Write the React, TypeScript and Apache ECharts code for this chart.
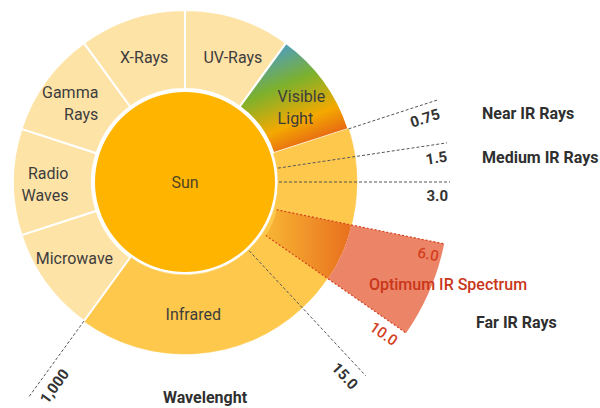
import React, { useEffect, useRef } from "react";
import * as echarts from "echarts";

// ---- data ----
const ringNames = ["UV-Rays", "Visible Light", "Infrared", "Microwave", "Radio Waves", "Gamma Rays", "X-Rays"];
const ringShares = [36, 36, 144, 36, 36, 36, 36]; // degrees of the ring
const irEdgeLabels = ["0.75", "1.5", "3.0", "6.0", "10.0", "15.0", "1,000"]; // wavelength edges
const irBandShares = [9.5, 8.5, 15, 19, 13, 79]; // degrees of each IR band (sum = 144)
const sideLabels = ["Near IR Rays", "Medium IR Rays", "Far IR Rays"];
const centerLabel = "Sun";
const optimumLabel = "Optimum IR Spectrum";
const axisTitle = "Wavelenght";

// ---- layout / style ----
const CX = 185, CY = 182;
const SUN_R = 90, RING_R0 = 93, RING_R1 = 172, LINE_END = 265;
const OPT = { cx: 209, cy: 196, a0: -11.5, a1: -34.8, r0: 69, rMid: 145, r1: 240 };
const FONT = "Roboto";
const C_SUN = "#FFB400";
const C_LIGHT = "#FEE3A7";
const C_IR = "#FEC84C";
const C_SALMON = "#EC8468";
const C_RED = "#D4401E";
const C_TEXT = "#3d3d3d";

// label nudges for the edge numbers (in the rotated text frame)
const edgeLabelOffset: Record<string, number[]> = {
  "0.75": [-2, 6],
  "1.5": [-2, 6],
  "3.0": [-2, 6],
  "15.0": [1, 8],
  "1,000": [4, 7],
};

// per-label presentation: rich box width/alignment for two-line labels, and nudges
const labelStyle: Record<string, { box?: [number, string]; offset: number[] }> = {
  "UV-Rays": { offset: [6, 4] },
  "Visible Light": { box: [48, "left"], offset: [7, 5] },
  Infrared: { offset: [0, -3] },
  Microwave: { offset: [-1, -3] },
  "Radio Waves": { box: [48, "right"], offset: [-5, 2] },
  "Gamma Rays": { box: [56, "right"], offset: [-5, 1] },
  "X-Rays": { offset: [1, 4] },
};

function ringLabel(name: string) {
  const st = labelStyle[name];
  if (st.box) {
    const words = name.split(" ");
    return {
      show: true,
      formatter: words.map((w) => `{b|${w}}`).join("\n"),
      offset: st.offset,
      rich: {
        b: {
          width: st.box[0],
          align: st.box[1],
          fontFamily: FONT,
          fontSize: 16,
          lineHeight: 22,
          color: C_TEXT,
        },
      },
    };
  }
  return { show: true, formatter: name, offset: st.offset };
}

function buildOption() {
  const irIdx = ringNames.indexOf("Infrared");
  const irStart = 90 - ringShares.slice(0, irIdx).reduce((a, b) => a + b, 0);
  const edgeAngles: number[] = [irStart];
  irBandShares.forEach((s) => edgeAngles.push(edgeAngles[edgeAngles.length - 1] - s));

  const visibleGrad = new echarts.graphic.LinearGradient(0.35, 0, 0.75, 1, [
    { offset: 0, color: "#4A9CCB" },
    { offset: 0.35, color: "#7DB12C" },
    { offset: 0.68, color: "#F4A900" },
    { offset: 1, color: "#E0481E" },
  ]);

  const ringData: any[] = [];
  ringNames.forEach((name, i) => {
    if (name === "Infrared") {
      irBandShares.forEach((s, j) => {
        const last = j === irBandShares.length - 1;
        ringData.push({
          name: last ? "Infrared" : `IR ${irEdgeLabels[j]}-${irEdgeLabels[j + 1]}`,
          value: s,
          itemStyle: { color: C_IR, borderColor: C_IR, borderWidth: 0.6 },
          label: last ? ringLabel(name) : { show: false },
        });
      });
    } else {
      ringData.push({
        name,
        value: ringShares[i],
        itemStyle: { color: name === "Visible Light" ? visibleGrad : C_LIGHT },
        label: ringLabel(name),
      });
    }
  });

  const numLabel = {
    fontFamily: FONT,
    fontSize: 15,
    fontWeight: "bold",
    color: "#333",
  };

  const grayEdges = [0, 1, 2, 5, 6];
  const grayLines = grayEdges.map((i) => {
    const a = edgeAngles[i];
    const outward = Math.cos((a * Math.PI) / 180) >= 0;
    const r0 = i === 0 || i === irEdgeLabels.length - 1 ? RING_R1 : RING_R0 + 1;
    return {
      type: "line",
      coordinateSystem: "polar",
      polarIndex: 0,
      symbol: "circle",
      symbolSize: 1,
      silent: true,
      z: 5,
      itemStyle: { color: "rgba(0,0,0,0)" },
      lineStyle: { color: "#555", width: 1, type: [3, 2] },
      data: [
        [r0, a],
        {
          value: [LINE_END, a],
          label: {
            show: true,
            formatter: irEdgeLabels[i],
            position: "inside",
            rotate: outward ? a : a + 180,
            align: outward ? "right" : "left",
            verticalAlign: "top",
            offset: edgeLabelOffset[irEdgeLabels[i]],
            ...numLabel,
          },
        },
      ],
    };
  });

  const redLines = [
    { i: 3, a: OPT.a0 },
    { i: 4, a: OPT.a1 },
  ].map(({ i, a }) => ({
    type: "line",
    coordinateSystem: "polar",
    polarIndex: 1,
    symbol: "circle",
    symbolSize: 1,
    silent: true,
    z: 6,
    itemStyle: { color: "rgba(0,0,0,0)" },
    lineStyle: { color: C_RED, width: 1.2, type: [2, 2] },
    data: [
      [OPT.r0, a],
      {
        value: [OPT.r1, a],
        label: {
          show: true,
          formatter: irEdgeLabels[i],
          position: "inside",
          rotate: a,
          align: "right",
          verticalAlign: "top",
          offset: [-3, 6],
          ...numLabel,
          fontWeight: 500,
          color: C_RED,
        },
      },
    ],
  }));

  const optSpan = OPT.a0 - OPT.a1;
  const hidden = { value: 360 - optSpan, itemStyle: { color: "rgba(0,0,0,0)" } };

  const textStyle = (extra: any) => ({
    fontFamily: FONT,
    fontSize: 16,
    fontWeight: "bold",
    fill: "#2f2f2f",
    ...extra,
  });

  return {
    animation: false,
    backgroundColor: "#ffffff",
    polar: [
      { center: [CX, CY], radius: 300 },
      { center: [OPT.cx, OPT.cy], radius: 300 },
    ],
    angleAxis: [0, 1].map((p) => ({
      polarIndex: p,
      type: "value",
      min: -180,
      max: 180,
      startAngle: 180,
      clockwise: false,
      show: false,
      axisLine: { show: false },
      axisTick: { show: false },
      axisLabel: { show: false },
      splitLine: { show: false },
    })),
    radiusAxis: [0, 1].map((p) => ({
      polarIndex: p,
      type: "value",
      min: 0,
      max: 300,
      show: false,
      axisLine: { show: false },
      axisTick: { show: false },
      axisLabel: { show: false },
      splitLine: { show: false },
    })),
    series: [
      {
        type: "pie",
        center: [CX, CY],
        radius: [RING_R0, RING_R1],
        startAngle: 90,
        clockwise: true,
        silent: true,
        itemStyle: { borderColor: "#fff", borderWidth: 2 },
        label: {
          position: "inside",
          fontFamily: FONT,
          fontSize: 16,
          lineHeight: 22,
          color: C_TEXT,
        },
        labelLine: { show: false },
        data: ringData,
      },
      {
        type: "pie",
        center: [CX, CY],
        radius: [0, SUN_R],
        silent: true,
        label: {
          show: true,
          position: "center",
          formatter: centerLabel,
          fontFamily: FONT,
          fontSize: 16,
          color: "#4f4424",
        },
        labelLine: { show: false },
        data: [{ name: centerLabel, value: 1, itemStyle: { color: C_SUN } }],
      },
      {
        type: "pie",
        center: [OPT.cx, OPT.cy],
        radius: [OPT.r0, OPT.rMid],
        startAngle: OPT.a0,
        clockwise: true,
        silent: true,
        label: { show: false },
        labelLine: { show: false },
        data: [
          {
            value: optSpan,
            itemStyle: {
              color: new echarts.graphic.LinearGradient(0, 0, 1, 0, [
                { offset: 0, color: "#F8B634" },
                { offset: 1, color: "#E86F1E" },
              ]),
            },
          },
          hidden,
        ],
      },
      {
        type: "pie",
        center: [OPT.cx, OPT.cy],
        radius: [OPT.rMid, OPT.r1],
        startAngle: OPT.a0,
        clockwise: true,
        silent: true,
        label: { show: false },
        labelLine: { show: false },
        data: [{ value: optSpan, itemStyle: { color: C_SALMON } }, hidden],
      },
      ...grayLines,
      ...redLines,
    ],
    graphic: [
      { type: "text", z: 100, x: 482, y: 113, style: textStyle({ text: sideLabels[0], textVerticalAlign: "middle", verticalAlign: "middle" }) },
      { type: "text", z: 100, x: 482, y: 157, style: textStyle({ text: sideLabels[1], textVerticalAlign: "middle", verticalAlign: "middle" }) },
      { type: "text", z: 100, x: 476, y: 322, style: textStyle({ text: sideLabels[2], textVerticalAlign: "middle", verticalAlign: "middle" }) },
      {
        type: "text",
        z: 100,
        x: 448,
        y: 284,
        style: textStyle({
          text: optimumLabel,
          fill: "#C9361A",
          fontWeight: 500,
          textAlign: "center",
          align: "center",
          textVerticalAlign: "middle",
          verticalAlign: "middle",
        }),
      },
      {
        type: "text",
        z: 100,
        x: 205,
        y: 397,
        style: textStyle({ text: axisTitle, textAlign: "center", align: "center", textVerticalAlign: "middle", verticalAlign: "middle" }),
      },
    ],
  };
}

export default function App() {
  const ref = useRef<HTMLDivElement>(null);
  useEffect(() => {
    const chart = echarts.init(ref.current!, null, { renderer: "svg" });
    chart.setOption(buildOption() as any);
    return () => chart.dispose();
  }, []);
  return (
    <div
      ref={ref}
      style={{ position: "fixed", left: 0, top: 0, width: 600, height: 408, background: "#fff" }}
    />
  );
}
